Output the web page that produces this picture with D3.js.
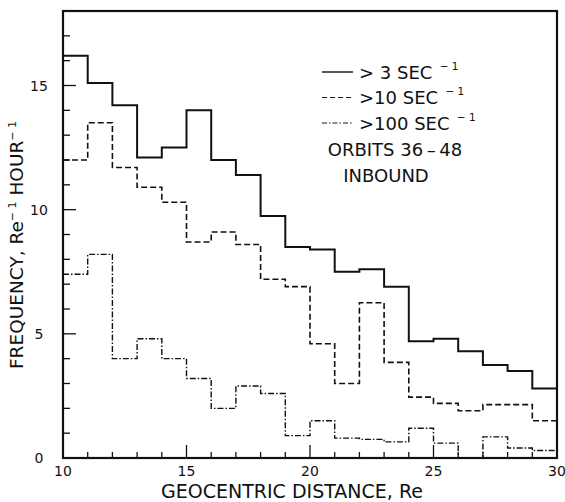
<!DOCTYPE html>
<html lang="en">
<head>
<meta charset="utf-8">
<title>Frequency vs geocentric distance</title>
<script src="https://d3js.org/d3.v7.min.js"></script>
<style>
  body, html { margin: 0; padding: 0; background: #fff; }
  svg text { font-family: "DejaVu Sans", sans-serif; fill: #111; }
  .tick-label { font-size: 14px; }
</style>
</head>
<body>
<svg id="chart" width="565" height="502"></svg>
<script>
// bin lower edges (Re), one bin per Re
var binEdges = [10, 11, 12, 13, 14, 15, 16, 17, 18, 19, 20, 21, 22, 23, 24, 25, 26, 27, 28, 29];
// > 3 sec^-1
var gt3 = [16.2, 15.1, 14.2, 12.1, 12.5, 14.0, 12.0, 11.4, 9.75, 8.5, 8.4, 7.5, 7.6, 6.9, 4.7, 4.8, 4.3, 3.75, 3.5, 2.8];
// > 10 sec^-1
var gt10 = [12.0, 13.5, 11.7, 10.9, 10.3, 8.7, 9.1, 8.6, 7.2, 6.9, 4.6, 3.0, 6.25, 3.85, 2.45, 2.2, 1.9, 2.15, 2.15, 1.5];
// > 100 sec^-1
var gt100 = [7.4, 8.2, 4.0, 4.8, 4.0, 3.2, 2.0, 2.9, 2.6, 0.9, 1.5, 0.8, 0.75, 0.65, 1.2, 0.6, 0, 0.85, 0.4, 0.3];

var xTicks = [10, 15, 20, 25, 30];
var yTicks = [0, 5, 10, 15];

var svg = d3.select("#chart");
var plotL = 63, plotR = 557, plotT = 11, plotB = 458;

var x = d3.scaleLinear().domain([10, 30]).range([plotL, plotR]);
var y = d3.scaleLinear().domain([0, 18]).range([plotB, plotT]);

// minor ticks every 1, major every 5 (pointing inward)
var g = svg.append("g");
d3.range(11, 30).forEach(function(v) {
  var major = v % 5 === 0;
  g.append("line")
    .attr("x1", x(v)).attr("x2", x(v))
    .attr("y1", plotB).attr("y2", plotB - (major ? 13 : 6))
    .attr("stroke", "#111").attr("stroke-width", 1.3);
});
d3.range(1, 18).forEach(function(v) {
  var major = v % 5 === 0;
  g.append("line")
    .attr("x1", plotL).attr("x2", plotL + (major ? 13 : 7))
    .attr("y1", y(v)).attr("y2", y(v))
    .attr("stroke", "#111").attr("stroke-width", 1.3);
});

// frame
svg.append("rect")
  .attr("x", plotL).attr("y", plotT)
  .attr("width", plotR - plotL).attr("height", plotB - plotT)
  .attr("fill", "none").attr("stroke", "#111").attr("stroke-width", 2.2);

// tick labels
svg.selectAll(".xl").data(xTicks).enter().append("text")
  .attr("class", "tick-label")
  .attr("x", function(d) { return x(d); })
  .attr("y", 476)
  .attr("text-anchor", "middle")
  .text(function(d) { return d; });

svg.selectAll(".yl").data(yTicks).enter().append("text")
  .attr("class", "tick-label")
  .attr("x", 39)
  .attr("y", function(d) { return y(d) + 5; })
  .attr("text-anchor", "middle")
  .text(function(d) { return d; });

// axis titles
svg.append("text")
  .attr("x", 292).attr("y", 498)
  .attr("text-anchor", "middle")
  .style("font-size", "19px")
  .text("GEOCENTRIC DISTANCE, Re");

var yt = svg.append("text")
  .attr("transform", "translate(23,245) rotate(-90)")
  .attr("text-anchor", "middle")
  .style("font-size", "18.5px");
yt.append("tspan").text("FREQUENCY, Re");
yt.append("tspan").attr("dy", -7).style("font-size", "11px").text("\u2212 1");
yt.append("tspan").attr("dy", 7).text(" HOUR");
yt.append("tspan").attr("dy", -7).style("font-size", "11px").text("\u2212 1");

// step lines
var line = d3.line()
  .x(function(d) { return x(d[0]); })
  .y(function(d) { return y(d[1]); })
  .curve(d3.curveStepAfter);

function steps(vals) {
  var pts = binEdges.map(function(b, i) { return [b, vals[i]]; });
  pts.push([30, vals[vals.length - 1]]);
  return pts;
}

var series = [
  { vals: gt3, dash: null, w: 2 },
  { vals: gt10, dash: "6,3", w: 1.6 },
  { vals: gt100, dash: "6,2,1.5,2", w: 1.4 }
];

series.forEach(function(s) {
  svg.append("path")
    .datum(steps(s.vals))
    .attr("d", line)
    .attr("fill", "none")
    .attr("stroke", "#111")
    .attr("stroke-width", s.w)
    .attr("stroke-dasharray", s.dash);
});

// legend
var legendLabels = ["> 3 SEC", ">10 SEC", ">100 SEC"];
var legend = svg.append("g");
series.forEach(function(s, i) {
  var ly = 72 + i * 25.5;
  legend.append("line")
    .attr("x1", 322).attr("x2", 353)
    .attr("y1", ly).attr("y2", ly)
    .attr("stroke", "#111")
    .attr("stroke-width", s.w * 0.7)
    .attr("stroke-dasharray", s.dash ? (i === 1 ? "5,3" : "5,2,1.5,2") : null);
  var t = legend.append("text")
    .attr("x", 359).attr("y", ly + 6.5)
    .style("font-size", "18px");
  t.append("tspan").text(legendLabels[i]);
  t.append("tspan").attr("dy", -9).attr("dx", 4).style("font-size", "10.5px").text(" \u2212 1");
});
legend.append("text")
  .attr("x", 395).attr("y", 156)
  .attr("text-anchor", "middle")
  .style("font-size", "18px")
  .text("ORBITS 36\u2009\u2013\u200948");
legend.append("text")
  .attr("x", 386).attr("y", 182)
  .attr("text-anchor", "middle")
  .style("font-size", "18px")
  .text("INBOUND");
</script>
</body>
</html>
